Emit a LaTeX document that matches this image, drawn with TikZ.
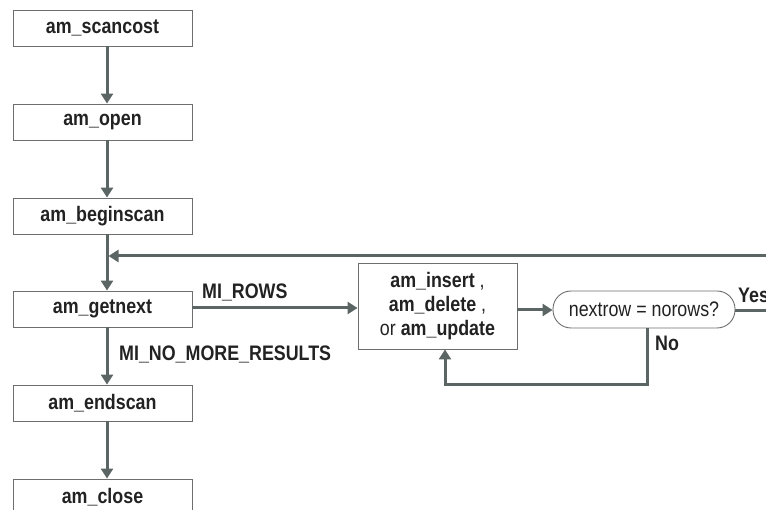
\documentclass[tikz,border=0pt]{standalone}
\usepackage{fontspec}
\setmainfont{Liberation Sans}[FakeStretch=0.85]
\usetikzlibrary{arrows.meta,calc}
\definecolor{ln}{HTML}{5B6563}
\definecolor{bd}{HTML}{6E6E6E}
\definecolor{tx}{HTML}{222222}
\tikzset{
  box/.style={draw=bd,line width=0.9pt,fill=white,minimum width=179pt,minimum height=36pt,inner sep=0pt,text=tx,font=\fontsize{21}{23}\selectfont\bfseries},
  flow/.style={draw=ln,line width=3pt,-{Triangle[length=10pt,width=12pt]}},
  plain/.style={draw=ln,line width=3pt},
  lbl/.style={text=tx,font=\fontsize{21}{23}\selectfont\bfseries,inner sep=0pt}
}
\begin{document}
\begin{tikzpicture}[x=1pt,y=-1pt]
\useasboundingbox (0,0) rectangle (766,510);
\clip (0,0) rectangle (766,510);
\node[box] (scan) at (102.5,28) {am\_scancost};
\node[box] (open) at (102.5,122) {am\_open};
\node[box] (begin) at (102.5,216) {am\_beginscan};
\node[box] (next) at (102.5,309) {am\_getnext};
\node[box] (end) at (102.5,403) {am\_endscan};
\node[box] (close) at (102.5,497) {am\_close};
\node[box,minimum width=159pt,minimum height=86pt,align=center,font=\fontsize{21}{24}\selectfont] (mid) at (437.5,306)
  {\textbf{am\_insert} ,\\ \textbf{am\_delete} ,\\ or \textbf{am\_update}};
\node[box,minimum width=182pt,minimum height=37pt,rounded corners=18pt,font=\fontsize{21}{23}\selectfont] (test) at (644,309.5) {nextrow = norows?};
\coordinate (j) at (107,256);
\coordinate (r) at (770,256);
\coordinate (yr) at (770,311);
\coordinate (nb) at (647,385);
\coordinate (mb) at (445,385);
\draw[flow] ([xshift=4.5pt]scan.south) -- ([xshift=4.5pt]open.north);
\draw[flow] ([xshift=4.5pt]open.south) -- ([xshift=4.5pt]begin.north);
\draw[flow] ([xshift=4.5pt]begin.south) -- ([xshift=4.5pt]next.north);
\draw[flow] ([xshift=4.5pt]next.south) -- ([xshift=4.5pt]end.north);
\draw[flow] ([xshift=4.5pt]end.south) -- ([xshift=4.5pt]close.north);
\draw[flow] (r) -- ([xshift=1.5pt]j);
\draw[flow] ([yshift=1pt]next.east) -- ([yshift=1pt]next.east -| mid.west);
\draw[flow] (mid.east |- 0,310) -- (test.west |- 0,310);
\draw[plain] (test.east |- 0,311) -- (yr);
\draw[flow] (test.south -| nb) -- (nb) -- (mb) -- (mb |- mid.south);
\node[lbl,anchor=west] (l1) at (202,292) {MI\_ROWS};
\node[lbl,anchor=west] (l2) at (119,354.5) {MI\_NO\_MORE\_RESULTS};
\node[lbl,anchor=west] (l3) at (655,343) {No};
\node[lbl,anchor=west] (l4) at (738,295) {Yes};
\end{tikzpicture}
\end{document}
